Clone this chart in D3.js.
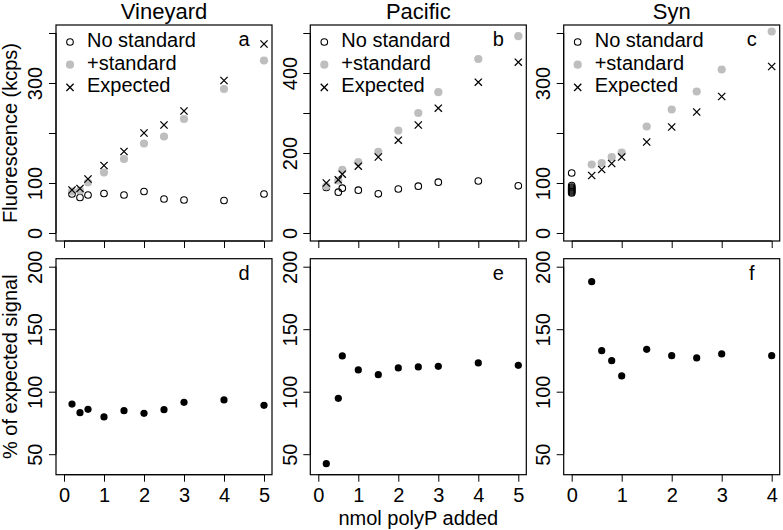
<!DOCTYPE html>
<html>
<head>
<meta charset="utf-8">
<script src="https://cdn.jsdelivr.net/npm/d3@7"></script>
<style>
  html, body { margin: 0; padding: 0; background: #fff; }
  svg { display: block; font-family: "Liberation Sans", Arial, Helvetica, sans-serif; }
</style>
</head>
<body>
<svg id="chart" width="783" height="530"></svg>
<script>
// ---------------- data ----------------
const panelTitles = ["Vineyard", "Pacific", "Syn"];
const topLetters = ["a", "b", "c"];
const bottomLetters = ["d", "e", "f"];
const legendLabels = ["No standard", "+standard", "Expected"];

const vineyardX = [0.2, 0.4, 0.6, 1, 1.5, 2, 2.5, 3, 4, 5];
const vineyardNoStd = [78, 71, 76, 79, 76, 83, 68, 66, 65, 78];
const vineyardStd = [83, 85, 101, 121, 148, 179, 193, 228, 288, 345];
const vineyardExp = [86, 89, 108, 135, 163, 200, 216, 244, 305, 378];
const vineyardPct = [90.1, 83.2, 85.9, 79.8, 84.8, 82.7, 85.6, 91.5, 93.4, 89.1];

const pacificX = [0.2, 0.5, 0.6, 1, 1.5, 2, 2.5, 3, 4, 5];
const pacificNoStd = [114, 102, 112, 107, 98, 110, 117, 127, 130, 118];
const pacificStd = [117, 131, 158, 177, 203, 256, 300, 352, 435, 492];
const pacificExp = [125, 133, 147, 167, 190, 232, 270, 312, 377, 427];
const pacificPct = [42.4, 94.7, 128.6, 117.4, 113.6, 119, 119.8, 120.3, 123, 121.1];

const synX = [0.4, 0.6, 0.8, 1, 1.5, 2, 2.5, 3, 4];
const synNoStdX = [0, 0, 0, 0, 0, 0, 0, 0, 0];
const synNoStd = [120, 95, 92, 90, 88, 86, 84, 82, 80];
const synStd = [137, 140, 152, 161, 213, 247, 283, 327, 403];
const synExp = [115, 127, 139, 152, 182, 212, 242, 273, 333];
const synPct = [188, 132.8, 124.8, 112.6, 133.9, 128.8, 127, 130.2, 128.8];

const xTicksAB = [0, 1, 2, 3, 4, 5];
const xTicksC = [0, 1, 2, 3, 4];
const yTicksTopA = [0, 100, 200, 300, 400];
const yLabelsTopA = [0, 100, 300];
const yTicksTopB = [0, 100, 200, 300, 400, 500];
const yLabelsTopB = [0, 200, 400];
const yTicksTopC = [0, 100, 200, 300, 400];
const yLabelsTopC = [0, 100, 300];
const yTicksBottom = [50, 100, 150, 200];

const xLabel = "nmol polyP added";
const yLabelTop = "Fluorescence (kcps)";
const yLabelBottom = "% of expected signal";

// ---------------- layout ----------------
const svg = d3.select("#chart");
const GRAY = "#bebebe";
const FONT = 20;
const lefts = [56, 310.3, 563.7];
const PW = 216;
const topRow = { top: 25, bottom: 241 };
const botRow = { top: 258.7, bottom: 474.7 };

const panels = [
  { noX: vineyardX, noY: vineyardNoStd, x: vineyardX, std: vineyardStd, exp: vineyardExp, pct: vineyardPct,
    xdom: [0, 5], xticks: xTicksAB, ydom: [0, 400], yticks: yTicksTopA, ylabels: yLabelsTopA },
  { noX: pacificX, noY: pacificNoStd, x: pacificX, std: pacificStd, exp: pacificExp, pct: pacificPct,
    xdom: [0, 5], xticks: xTicksAB, ydom: [0, 500], yticks: yTicksTopB, ylabels: yLabelsTopB },
  { noX: synNoStdX, noY: synNoStd, x: synX, std: synStd, exp: synExp, pct: synPct,
    xdom: [0, 4], xticks: xTicksC, ydom: [0, 400], yticks: yTicksTopC, ylabels: yLabelsTopC }
];

function padDom(d) { const r = d[1] - d[0]; return [d[0] - 0.04 * r, d[1] + 0.04 * r]; }

function drawYAxis(g, y, ticks, labels) {
  const ax = d3.axisLeft(y).tickValues(ticks).tickSize(7).tickSizeOuter(0)
    .tickFormat(d => labels.includes(d) ? d : "");
  g.call(ax);
  g.select(".domain").remove();
  g.selectAll(".tick line").attr("stroke", "#000").attr("stroke-width", 1);
  g.selectAll(".tick text")
    .attr("transform", "rotate(-90)")
    .attr("x", 0).attr("y", -21).attr("dy", "0.36em")
    .attr("text-anchor", "middle")
    .attr("font-size", FONT).attr("font-family", "Liberation Sans, Arial, sans-serif")
    .attr("fill", "#000");
  // axis line from first to last tick
  g.append("line").attr("x1", 0).attr("x2", 0)
    .attr("y1", y(ticks[0])).attr("y2", y(ticks[ticks.length - 1]))
    .attr("stroke", "#000").attr("stroke-width", 1);
}

function drawXAxis(g, x, ticks, showLabels) {
  const ax = d3.axisBottom(x).tickValues(ticks).tickSize(7).tickSizeOuter(0)
    .tickFormat(d => showLabels ? d : "");
  g.call(ax);
  g.select(".domain").remove();
  g.selectAll(".tick line").attr("stroke", "#000").attr("stroke-width", 1);
  g.selectAll(".tick text")
    .attr("y", 27.5).attr("dy", 0)
    .attr("font-size", FONT).attr("font-family", "Liberation Sans, Arial, sans-serif")
    .attr("fill", "#000");
  g.append("line").attr("y1", 0).attr("y2", 0)
    .attr("x1", x(ticks[0])).attr("x2", x(ticks[ticks.length - 1]))
    .attr("stroke", "#000").attr("stroke-width", 1);
}

function crossPath(cx, cy, s) {
  return `M${cx - s},${cy - s}L${cx + s},${cy + s}M${cx - s},${cy + s}L${cx + s},${cy - s}`;
}

panels.forEach((p, i) => {
  const L = lefts[i], R = L + PW;
  const x = d3.scaleLinear().domain(padDom(p.xdom)).range([L, R]);

  // ----- top panel -----
  const yT = d3.scaleLinear().domain(padDom(p.ydom)).range([topRow.bottom, topRow.top]);
  const gT = svg.append("g");

  // title
  svg.append("text").attr("x", (L + R) / 2).attr("y", 19)
    .attr("text-anchor", "middle").attr("font-size", 22).text(panelTitles[i]);

  // no standard circles
  gT.selectAll("circle.no").data(p.noY).enter().append("circle")
    .attr("cx", (d, j) => x(p.noX[j])).attr("cy", d => yT(d)).attr("r", 3.3)
    .attr("fill", "none").attr("stroke", "#000").attr("stroke-width", 1.1);
  // +standard gray
  gT.selectAll("circle.std").data(p.std).enter().append("circle")
    .attr("cx", (d, j) => x(p.x[j])).attr("cy", d => yT(d)).attr("r", 4.1)
    .attr("fill", GRAY);
  // expected crosses
  gT.selectAll("path.exp").data(p.exp).enter().append("path")
    .attr("d", (d, j) => crossPath(x(p.x[j]), yT(d), 3.6))
    .attr("stroke", "#000").attr("stroke-width", 1.3).attr("fill", "none");

  // box
  svg.append("rect").attr("x", L).attr("y", topRow.top).attr("width", PW)
    .attr("height", topRow.bottom - topRow.top)
    .attr("fill", "none").attr("stroke", "#000").attr("stroke-width", 1.2);

  drawYAxis(svg.append("g").attr("transform", `translate(${L},0)`), yT, p.yticks, p.ylabels);
  drawXAxis(svg.append("g").attr("transform", `translate(0,${topRow.bottom})`), x, p.xticks, false);

  // legend
  const lg = svg.append("g");
  const rows = [topRow.top + 22, topRow.top + 44.7, topRow.top + 67.4];
  const sx = L + 14, tx = L + 31;
  lg.append("circle").attr("cx", sx).attr("cy", rows[0] - 5).attr("r", 3.3)
    .attr("fill", "none").attr("stroke", "#000").attr("stroke-width", 1.1);
  lg.append("circle").attr("cx", sx).attr("cy", rows[1] - 5).attr("r", 4.1).attr("fill", GRAY);
  lg.append("path").attr("d", crossPath(sx, rows[2] - 5, 3.6))
    .attr("stroke", "#000").attr("stroke-width", 1.3);
  legendLabels.forEach((t, k) => {
    lg.append("text").attr("x", tx).attr("y", rows[k]).attr("font-size", FONT).text(t);
  });

  svg.append("text").attr("x", R - 28).attr("y", topRow.top + 21)
    .attr("text-anchor", "middle").attr("font-size", FONT).text(topLetters[i]);

  // ----- bottom panel -----
  const yB = d3.scaleLinear().domain(padDom([40, 200])).range([botRow.bottom, botRow.top]);
  svg.append("g").selectAll("circle").data(p.pct).enter().append("circle")
    .attr("cx", (d, j) => x(p.x[j])).attr("cy", d => yB(d)).attr("r", 3.6).attr("fill", "#000");

  svg.append("rect").attr("x", L).attr("y", botRow.top).attr("width", PW)
    .attr("height", botRow.bottom - botRow.top)
    .attr("fill", "none").attr("stroke", "#000").attr("stroke-width", 1.2);

  drawYAxis(svg.append("g").attr("transform", `translate(${L},0)`), yB, yTicksBottom, yTicksBottom);
  drawXAxis(svg.append("g").attr("transform", `translate(0,${botRow.bottom})`), x, p.xticks, true);

  svg.append("text").attr("x", R - 28).attr("y", botRow.top + 21.5)
    .attr("text-anchor", "middle").attr("font-size", FONT).text(bottomLetters[i]);
});

// axis titles
svg.append("text").attr("transform", `translate(17,${(topRow.top + topRow.bottom) / 2}) rotate(-90)`)
  .attr("text-anchor", "middle").attr("font-size", FONT).text(yLabelTop);
svg.append("text").attr("transform", `translate(17,${(botRow.top + botRow.bottom) / 2}) rotate(-90)`)
  .attr("text-anchor", "middle").attr("font-size", FONT).text(yLabelBottom);
svg.append("text").attr("x", lefts[1] + PW / 2).attr("y", 525)
  .attr("text-anchor", "middle").attr("font-size", FONT).text(xLabel);
</script>
</body>
</html>
